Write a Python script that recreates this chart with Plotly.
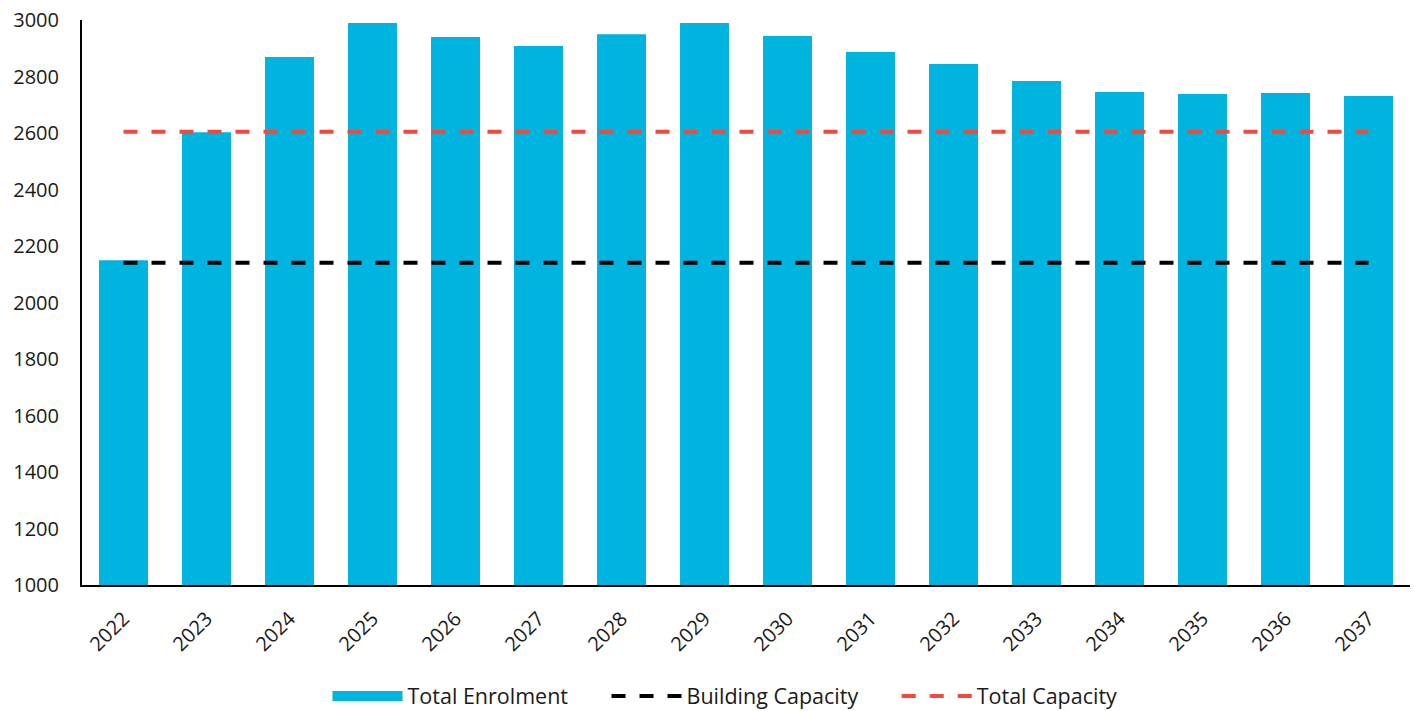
import plotly.graph_objects as go

years = ["2022", "2023", "2024", "2025", "2026", "2027", "2028", "2029",
         "2030", "2031", "2032", "2033", "2034", "2035", "2036", "2037"]
total_enrolment = [2150, 2603, 2869, 2989, 2940, 2908, 2950, 2989,
                   2943, 2887, 2844, 2784, 2745, 2738, 2742, 2731]
building_capacity = [2141] * len(years)
total_capacity = [2604] * len(years)

BAR_COLOR = "#00B4E0"
RED = "#F04A3E"
FONT = "Open Sans"
NB = "\u00a0" * 6

fig = go.Figure()
fig.add_trace(go.Bar(x=years, y=total_enrolment, name="Total Enrolment",
                     marker=dict(color=BAR_COLOR, line=dict(width=0)),
                     showlegend=False))
# legend proxy for bar (wide swatch)
fig.add_trace(go.Scatter(x=[None], y=[None], mode="lines", name="Total Enrolment" + NB,
                         line=dict(color=BAR_COLOR, width=13)))
fig.add_trace(go.Scatter(x=years, y=building_capacity, mode="lines", name="Building Capacity" + NB,
                         line=dict(color="black", width=4, dash="14px,14px")))
fig.add_trace(go.Scatter(x=years, y=total_capacity, mode="lines", name="Total Capacity",
                         line=dict(color=RED, width=4, dash="14px,14px")))

fig.update_layout(
    width=1417, height=711,
    margin=dict(l=82, r=7, t=20, b=126, autoexpand=False),
    plot_bgcolor="white", paper_bgcolor="white",
    bargap=0.41,
    font=dict(family=FONT, size=20, color="#1a1a1a"),
    showlegend=True,
    legend=dict(orientation="h", x=725 / 1417, xanchor="center", xref="container",
                y=15 / 711, yanchor="middle", yref="container",
                itemwidth=70, font=dict(family=FONT, size=21.5), traceorder="normal"),
    xaxis=dict(type="category", showgrid=False, showline=True, linecolor="black", linewidth=2,
               tickangle=-45, ticks="", tickfont=dict(family=FONT, size=20), automargin=False,
               ticklabelstandoff=12),
    yaxis=dict(range=[1000, 3000], dtick=200, showgrid=False, showline=True, linecolor="black",
               linewidth=2, ticks="", zeroline=False, tickfont=dict(family=FONT, size=20),
               ticklabelstandoff=17, automargin=False),
)

fig.write_html("out.html", config={"displayModeBar": False},
               post_script="document.body.style.margin='0';")
